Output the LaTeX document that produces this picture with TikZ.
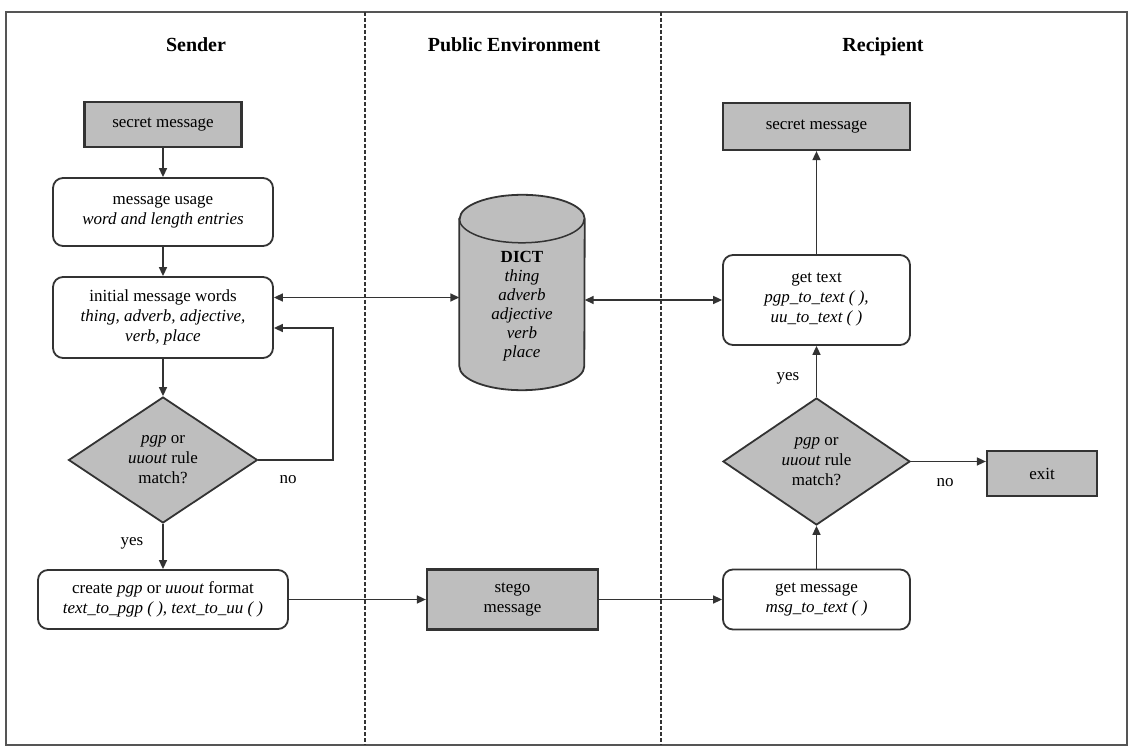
\documentclass[tikz,border=0pt]{standalone}
\usepackage{fontspec}
\setmainfont{Liberation Serif}
\usetikzlibrary{shapes.geometric,arrows.meta,calc}
\definecolor{ink}{HTML}{333333}
\definecolor{boxgray}{HTML}{BEBEBE}
\definecolor{framegray}{HTML}{555555}
\newcommand{\bodyfont}{\fontsize{17}{20}\selectfont}
\begin{document}
\begin{tikzpicture}[x=1pt,y=1pt,
  line/.style={draw=ink, line width=1.6pt},
  arr/.style={line, -{Triangle[length=9pt,width=8pt]}},
  dbl/.style={line, {Triangle[length=9pt,width=8pt]}-{Triangle[length=9pt,width=8pt]}},
  proc/.style={draw=ink, line width=1.8pt, rounded corners=10pt, fill=white,
    align=center, font=\bodyfont, inner sep=0pt},
  term/.style={draw=ink, line width=2.2pt, fill=boxgray, align=center,
    font=\bodyfont, inner sep=0pt},
  decision/.style={diamond, draw=ink, line width=1.8pt, fill=boxgray,
    align=center, font=\bodyfont, inner sep=0pt},
  lane/.style={font=\fontsize{20}{24}\selectfont\bfseries, anchor=base},
  tag/.style={font=\bodyfont},
  divider/.style={draw=ink, line width=1.5pt, dash pattern=on 4pt off 2pt}
]
\useasboundingbox (0,0) rectangle (1128,748);

% outer frame and lane dividers
\draw[framegray, line width=2pt] (6,3) rectangle (1127,736);
\draw[divider] (365,736) -- (365,3);
\draw[divider] (661,736) -- (661,3);

% lane headings
\node[lane] (hsend) at (196,696) {Sender};
\node[lane] (hpub)  at (514,696) {Public Environment};
\node[lane] (hrec)  at (883,696) {Recipient};

% sender
\node[term, minimum width=157, minimum height=45] (sm1) at (163,623.5) {secret message};
\node[proc, minimum width=220, minimum height=68] (mu) at (163,536)
  {message usage\\\textit{word and length entries}};
\node[proc, minimum width=220, minimum height=81] (imw) at (163,430.5)
  {initial message words\\\textit{thing, adverb, adjective,}\\\textit{verb, place}};
\node[decision, minimum width=189, minimum height=126] (d1) at (163,288)
  {\textit{pgp} or\\\textit{uuout} rule\\match?};
\node[proc, minimum width=250, minimum height=59] (cr) at (163,148.5)
  {create \textit{pgp} or \textit{uuout} format\\\textit{text\_to\_pgp ( ), text\_to\_uu ( )}};

% public environment
\node[minimum width=125, minimum height=195, inner sep=0pt] (dict) at (522,455.5) {};
\path[draw=ink, line width=1.8pt, fill=boxgray]
  ([yshift=-24pt]dict.north west) -- ([yshift=24pt]dict.south west)
  arc[start angle=180, end angle=360, x radius=62.5, y radius=24]
  -- ([yshift=-24pt]dict.north east)
  arc[start angle=0, end angle=180, x radius=62.5, y radius=24] -- cycle;
\draw[ink, line width=1.5pt] ([yshift=-24pt]dict.north west)
  arc[start angle=180, end angle=360, x radius=62.5, y radius=24];
\node[align=center, font=\fontsize{17}{19}\selectfont] (dicttext) at ([yshift=-14pt]dict.center)
  {\textbf{DICT}\\\textit{thing}\\\textit{adverb}\\\textit{adjective}\\\textit{verb}\\\textit{place}};
\node[term, minimum width=171, minimum height=60] (stego) at (512.5,148.5) {stego\\message};

% recipient
\node[term, minimum width=187, minimum height=47] (sm2) at (816.5,621.5) {secret message};
\node[proc, minimum width=187, minimum height=90] (gt) at (816.5,448)
  {get text\\\textit{pgp\_to\_text ( ),}\\\textit{uu\_to\_text ( )}};
\node[decision, minimum width=187, minimum height=127] (d2) at (816.5,286.5)
  {\textit{pgp} or\\\textit{uuout} rule\\match?};
\node[term, minimum width=110, minimum height=45] (exit) at (1042,274.5) {exit};
\node[proc, minimum width=187, minimum height=60] (gm) at (816.5,148.5)
  {get message\\\textit{msg\_to\_text ( )}};

% branch labels
\node[tag] (yes1) at (132,205) {yes};
\node[tag] (no1)  at (288,268) {no};
\node[tag] (yes2) at (788,370) {yes};
\node[tag] (no2)  at (945,265) {no};

% sender flow
\draw[arr] (sm1) -- (mu);
\draw[arr] (mu) -- (imw);
\draw[arr] (imw) -- (d1);
\coordinate (loop) at (333,420);
\draw[arr] (d1.east) -| (loop) -- (loop -| imw.east);
\draw[arr] (d1.south) -- (cr.north);

% dictionary lookups
\draw[dbl] ([yshift=20pt]imw.east) -- ([yshift=20pt]imw.east -| dict.west);
\draw[dbl] (dict.east |- gt.west) -- (gt.west);

% message transfer
\draw[arr] (cr.east) -- (cr.east -| stego.west);
\draw[arr] (stego.east) -- (stego.east -| gm.west);

% recipient flow
\draw[arr] (gm.north) -- (d2.south);
\draw[arr] (d2.north) -- (gt.south);
\draw[arr] (d2.east) -- (d2.east -| exit.west);
\draw[arr] (gt.north) -- (sm2.south);
\end{tikzpicture}
\end{document}
